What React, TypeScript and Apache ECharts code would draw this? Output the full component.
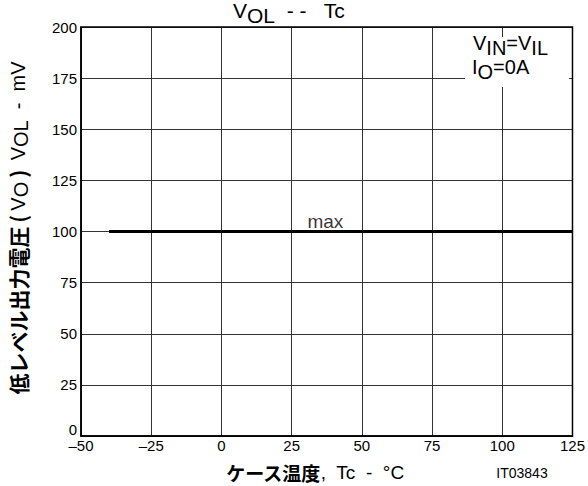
import React, { useEffect, useRef } from "react";
import * as echarts from "echarts";

const xTicks = [-50, -25, 0, 25, 50, 75, 100, 125];
const yTicks = [0, 25, 50, 75, 100, 125, 150, 175, 200];
const maxLine: [number, number][] = [
  [-40, 100],
  [125, 100],
];
const maxLabelPoint: [number, number][] = [[37, 100]];
const maxLabelText = "max";

const LAT = "'Liberation Sans', Arial, sans-serif";
const JP = "'Noto Sans CJK JP', sans-serif";

const subRich = (size: number, drop: number) => ({
  n: { font: `${size}px ${LAT}`, fill: "#000", verticalAlign: "top", lineHeight: size + 2 },
  s: { font: `${size}px ${LAT}`, fill: "#000", verticalAlign: "top", lineHeight: size + 2, padding: [drop, 0, 0, 0] },
});

export default function App() {
  const ref = useRef<HTMLDivElement>(null);
  useEffect(() => {
    if (!ref.current) return;
    const chart = echarts.init(ref.current, undefined, { renderer: "svg" });
    chart.setOption({
      animation: false,
      backgroundColor: "#fff",
      grid: {
        left: 81,
        right: 12,
        top: 27,
        bottom: 50,
        show: true,
        borderColor: "#000",
        borderWidth: 1.5,
        z: 5,
      },
      xAxis: {
        type: "value",
        min: xTicks[0],
        max: xTicks[xTicks.length - 1],
        interval: 25,
        axisLine: { show: true, onZero: false, lineStyle: { color: "#000", width: 1.5 } },
        axisTick: { show: false },
        splitLine: { show: true, lineStyle: { color: "#333", width: 1 } },
        axisLabel: {
          color: "#000",
          fontFamily: LAT,
          fontSize: 15,
          margin: 2,
          formatter: (v: number) => (v < 0 ? "\u2013" + Math.abs(v) : String(v)),
        },
      },
      yAxis: {
        type: "value",
        min: yTicks[0],
        max: yTicks[yTicks.length - 1],
        interval: 25,
        axisLine: { show: true, onZero: false, lineStyle: { color: "#000", width: 1.5 } },
        axisTick: { show: false },
        splitLine: { show: true, lineStyle: { color: "#333", width: 1 } },
        axisLabel: {
          color: "#000",
          fontFamily: LAT,
          fontSize: 15,
          margin: 4,
          formatter: (v: number) => (v === 0 ? "{z|0}" : String(v)),
          rich: { z: { fontFamily: LAT, fontSize: 15, color: "#000", padding: [0, 0, 14, 0] } },
        },
      },
      series: [
        {
          type: "line",
          data: maxLine,
          symbol: "none",
          lineStyle: { color: "#000", width: 3 },
          z: 10,
        },
        {
          type: "scatter",
          data: maxLabelPoint,
          symbolSize: 0,
          label: {
            show: true,
            position: "top",
            distance: 1,
            formatter: () => maxLabelText,
            color: "#000",
            fontFamily: LAT,
            fontSize: 19,
          },
          z: 11,
        },
      ],
      graphic: [
        // title
        {
          type: "text",
          x: 233,
          y: 0,
          style: { text: "{n|V}{s|OL}{n|  - -   Tc}", rich: subRich(21, 5) },
        },
        // annotation box
        { type: "rect", shape: { x: 465, y: 37, width: 104, height: 50 }, style: { fill: "#fff" }, z: 20 },
        {
          type: "text",
          x: 473,
          y: 33,
          z: 21,
          style: { text: "{n|V}{s|IN}{n|=V}{s|IL}", rich: subRich(20, 5) },
        },
        {
          type: "text",
          x: 472,
          y: 57,
          z: 21,
          style: { text: "{n|I}{s|O}{n|=0A}", rich: subRich(20, 5) },
        },
        // y axis title (rotated)
        {
          type: "text",
          x: 19,
          y: 228,
          rotation: Math.PI / 2,
          style: {
            text: "{j|低レベル出力電圧}{b|(}{l|V}{s|O}{b|)}{l| V}{s|OL}{l|  -  mV}",
            align: "center",
            verticalAlign: "middle",
            rich: {
              j: { font: `bold 21px ${JP}`, fill: "#000", verticalAlign: "top", lineHeight: 23 },
              b: { font: `bold 21px ${JP}`, fill: "#000", verticalAlign: "top", lineHeight: 23, padding: [0, 4, 0, 4] },
              l: { font: `20px ${LAT}`, fill: "#000", verticalAlign: "top", lineHeight: 23 },
              s: { font: `20px ${LAT}`, fill: "#000", verticalAlign: "top", lineHeight: 23, padding: [3, 0, 0, 0] },
            },
          },
        },
        // x axis title
        {
          type: "text",
          x: 315,
          y: 472,
          style: {
            text: "{j|ケース温度}{l|,  Tc  -  °C}",
            align: "center",
            verticalAlign: "middle",
            rich: {
              j: { font: `bold 19px ${JP}`, fill: "#000" },
              l: { font: `19px ${LAT}`, fill: "#000" },
            },
          },
        },
        {
          type: "text",
          x: 522,
          y: 473,
          style: { text: "IT03843", font: `14px ${LAT}`, fill: "#000", align: "center", verticalAlign: "middle" },
        },
      ],
    });
    return () => chart.dispose();
  }, []);
  return <div ref={ref} style={{ width: 588, height: 486, position: "absolute", left: 0, top: 0 }} />;
}
